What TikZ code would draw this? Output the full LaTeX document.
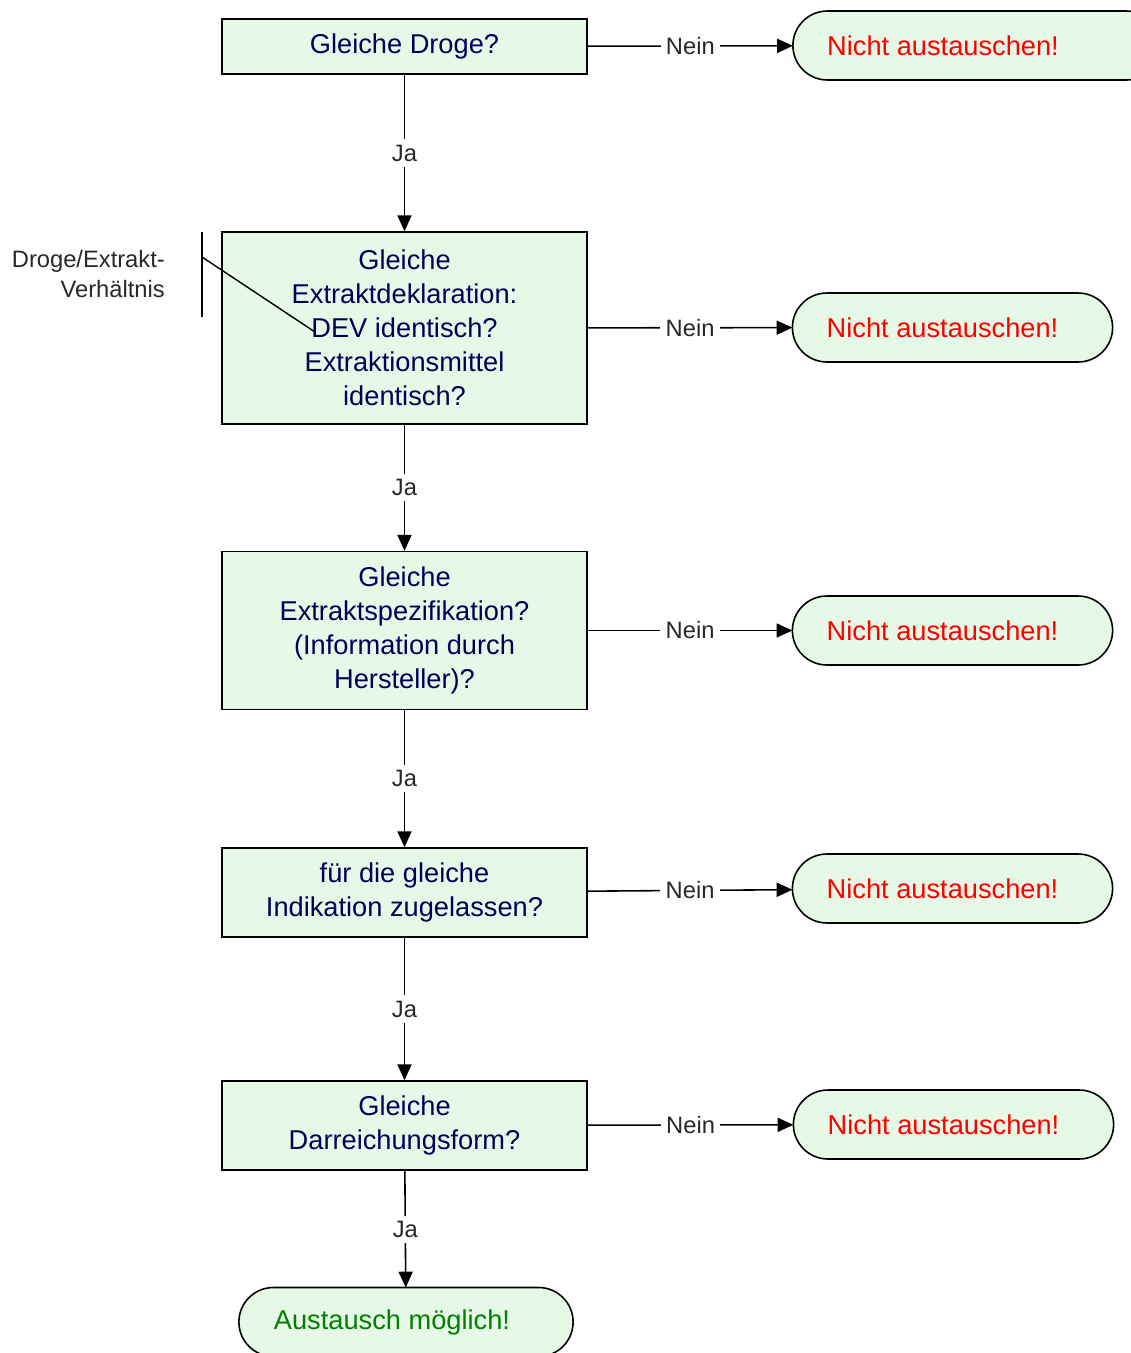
\documentclass[tikz,border=0pt]{standalone}
\usepackage{fontspec}
\setmainfont{Liberation Sans}
\usetikzlibrary{arrows.meta, positioning, shapes.misc}
\definecolor{boxgreen}{RGB}{230, 248, 230}
\definecolor{asknavy}{RGB}{0, 0, 90}
\definecolor{stopred}{RGB}{255, 0, 0}
\definecolor{okgreen}{RGB}{0, 128, 0}
\definecolor{labelgray}{RGB}{40, 40, 40}

\begin{document}
\begin{tikzpicture}[x=0.02cm, y=-0.02cm,
  askbox/.style={draw, line width=0.9pt, fill=boxgreen, text=asknavy, minimum width=7.3cm, align=center, font=\fontsize{15.5}{19.3}\selectfont},
  endbox/.style={draw, line width=0.9pt, fill=boxgreen, rounded rectangle, minimum width=6.64cm, minimum height=1.38cm, outer sep=0pt, font=\fontsize{15.5}{19.3}\selectfont},
  yesno/.style={fill=white, text=labelgray, font=\fontsize{13.5}{16}\selectfont, inner sep=3pt},
  flow/.style={line width=0.9pt, -{Triangle[length=9pt, width=8pt]}}]
  \useasboundingbox (0,0) rectangle (1131,1353);

  % questions
  \node[askbox, minimum height=1.1cm] (q1) at (404.5, 46.5) {Gleiche Droge?};
  \node[askbox, minimum height=3.84cm] (q2) at (404.5, 328) {Gleiche\\Extraktdeklaration:\\DEV identisch?\\Extraktionsmittel\\identisch?};
  \node[askbox, minimum height=3.16cm] (q3) at (404.5, 630.5) {Gleiche\\Extraktspezifikation?\\(Information durch\\Hersteller)?};
  \node[askbox, minimum height=1.78cm] (q4) at (404.5, 892.5) {für die gleiche\\Indikation zugelassen?};
  \node[askbox, minimum height=1.78cm] (q5) at (404.5, 1125.5) {Gleiche\\Darreichungsform?};

  % outcomes (text sits a bit left of centre)
  \node[endbox, text=stopred, minimum width=7.6cm] (n1) at (977, 45.5) {Nicht austauschen!\hspace*{1.36cm}};
  \node[endbox, text=stopred] (n2) at (952.5, 327.5) {Nicht austauschen!\hspace*{0.4cm}};
  \node[endbox, text=stopred] (n3) at (952.5, 630.5) {Nicht austauschen!\hspace*{0.4cm}};
  \node[endbox, text=stopred] (n4) at (952.5, 888.5) {Nicht austauschen!\hspace*{0.4cm}};
  \node[endbox, text=stopred] (n5) at (953.5, 1124.5) {Nicht austauschen!\hspace*{0.4cm}};
  \node[endbox, text=okgreen, minimum width=6.92cm] (ok) at (406, 1322) {Austausch möglich!\hspace*{0.56cm}};

  % Ja / Nein
  \draw[flow] (q1) -- node[yesno] {Ja} (q2);
  \draw[flow] (q2) -- node[yesno] {Ja} (q3);
  \draw[flow] (q3) -- node[yesno] {Ja} (q4);
  \draw[flow] (q4) -- node[yesno] {Ja} (q5);
  \draw[flow] (q5) -- node[yesno] {Ja} (ok);
  \draw[flow] (q1) -- node[yesno] {Nein} (n1);
  \draw[flow] (q2) -- node[yesno] {Nein} (n2);
  \draw[flow] (q3) -- node[yesno] {Nein} (n3);
  \draw[flow] (q4) -- node[yesno] {Nein} (n4);
  \draw[flow] (q5) -- node[yesno] {Nein} (n5);

  % note on DEV
  \node[text=labelgray, align=right, anchor=east, font=\fontsize{13.5}{17.6}\selectfont] (devnote) at (171, 274) {Droge/Extrakt-\\Verhältnis};
  \coordinate (barTop) at (202, 232);
  \coordinate (barBot) at (202, 317);
  \coordinate (leadStart) at (202, 257);
  \coordinate (leadEnd) at (315, 332);
  \draw[line width=0.9pt] (barTop) -- (barBot);
  \draw[line width=0.8pt] (leadStart) -- (leadEnd);
\end{tikzpicture}
\end{document}
